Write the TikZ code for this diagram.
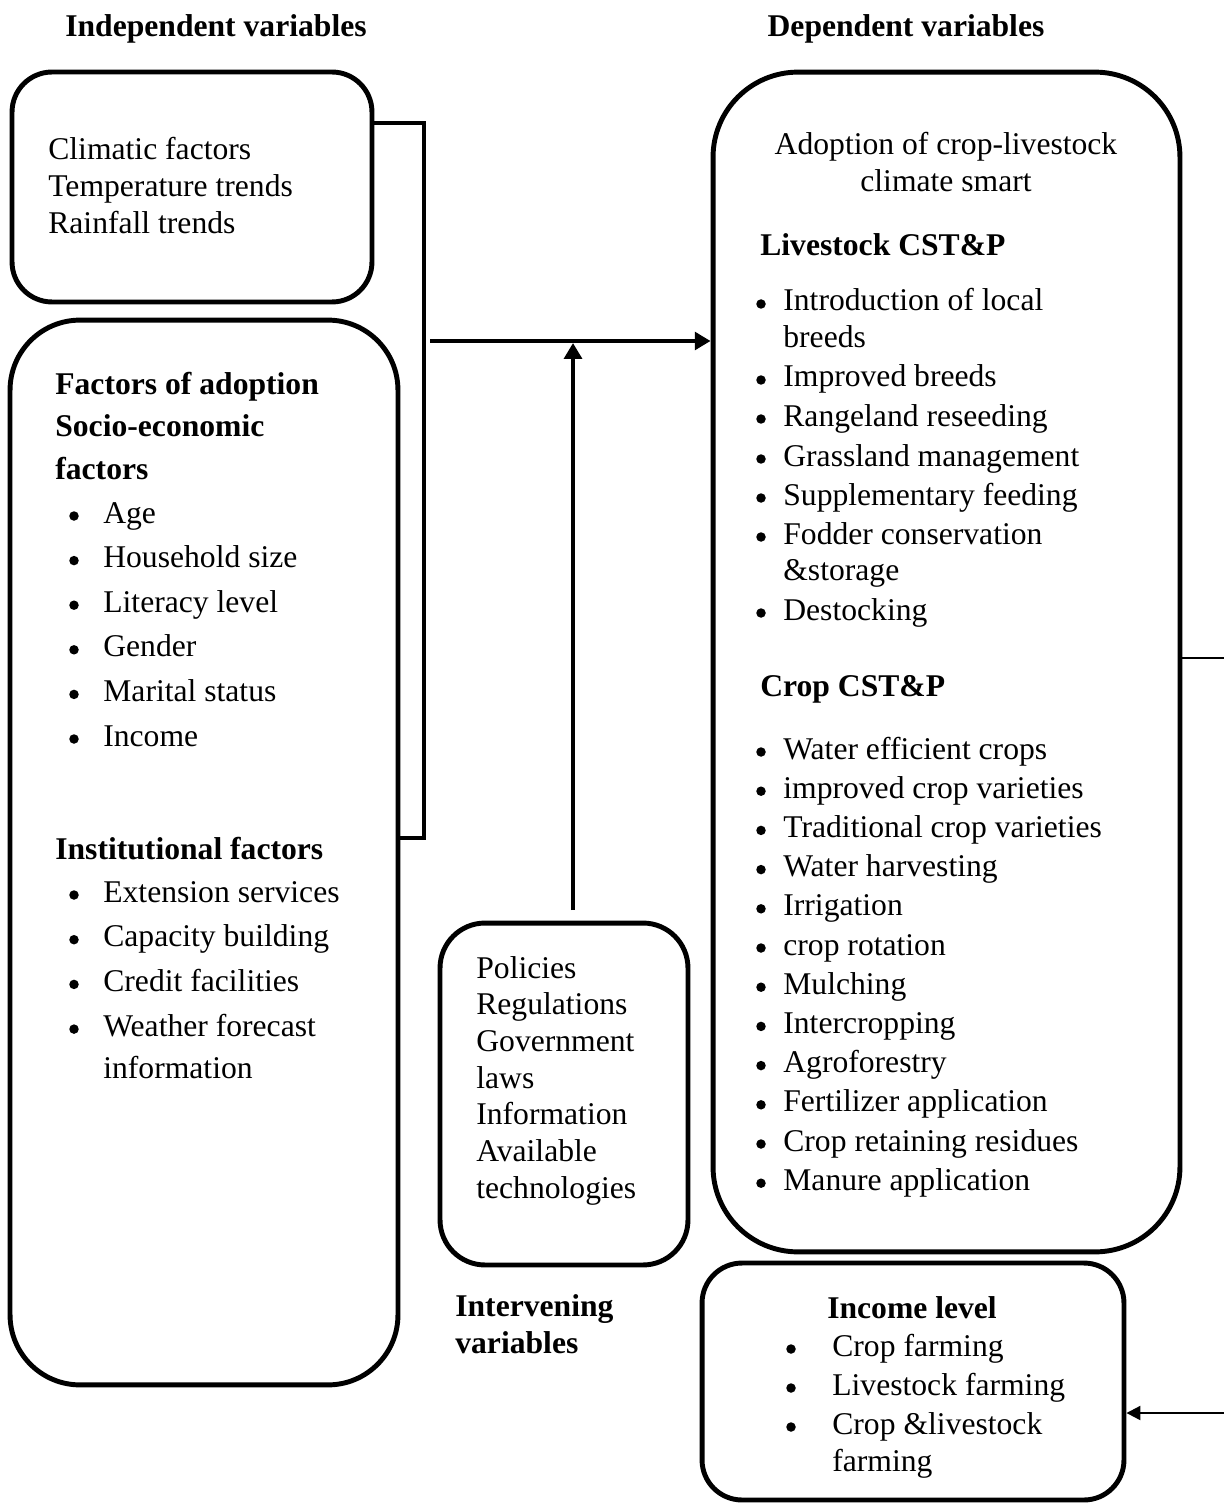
\documentclass[tikz,border=0pt]{standalone}
\usepackage{fontspec}
\setmainfont{Liberation Serif}
\usetikzlibrary{arrows.meta}
\begin{document}
\begin{tikzpicture}[x=0.02cm,y=-0.02cm,
  box/.style={draw,line width=2.8pt,rounded corners=#1,inner sep=0pt},
  txt/.style={anchor=base west,inner sep=0pt,font=\fontsize{18}{21}\selectfont},
  btxt/.style={txt,font=\fontsize{18}{21}\selectfont\bfseries},
  ctxt/.style={anchor=base,inner sep=0pt,font=\fontsize{18}{21}\selectfont},
  bul/.style={circle,fill,inner sep=0pt,minimum size=0.19cm},
  thickarrow/.style={line width=2.8pt,-{Triangle[length=9pt,width=10pt]}},
  thinarrow/.style={line width=1.2pt,-{Triangle[length=8pt,width=8pt]}}]
\useasboundingbox (0,0) rectangle (1223,1503);
% boxes
\node[box=0.8cm,minimum width=7.2cm,minimum height=4.6cm] (b1) at (192,187) {};
\node[box=1.4cm,minimum width=7.76cm,minimum height=21.3cm] (b2) at (204,852.5) {};
\node[box=0.9cm,minimum width=4.96cm,minimum height=6.84cm] (b3) at (564,1094) {};
\node[box=1.7cm,minimum width=9.34cm,minimum height=23.6cm] (b4) at (946.5,662) {};
\node[box=0.8cm,minimum width=8.44cm,minimum height=4.74cm] (b5) at (913,1381.5) {};
% titles
\node[ctxt,font=\fontsize{18}{21}\selectfont\bfseries] (t1) at (216,37) {Independent variables};
\node[ctxt,font=\fontsize{18}{21}\selectfont\bfseries] (t2) at (906,37) {Dependent variables};
% box1 text
\node[txt] (a1) at (48,160) {Climatic factors};
\node[txt] (a2) at (48,197) {Temperature trends};
\node[txt] (a3) at (48,234) {Rainfall trends};
% box2 text
\node[btxt] (c1) at (55,395) {Factors of adoption};
\node[btxt] (c2) at (55,437) {Socio-economic};
\node[btxt] (c3) at (55,479) {factors};
\foreach \t [count=\i] in {Age,Household size,Literacy level,Gender,Marital status,Income}{
  \node[bul] (cb\i) at (74,{514+44.6*(\i-1)+2}) {};
  \node[txt] (ct\i) at (103,{514+44.6*(\i-1)+9}) {\t};
}
\node[btxt] (c4) at (55,859) {Institutional factors};
\foreach \t [count=\i] in {Extension services,Capacity building,Credit facilities,Weather forecast}{
  \node[bul] (db\i) at (74,{893+44.7*(\i-1)+2}) {};
  \node[txt] (dt\i) at (103,{893+44.7*(\i-1)+9}) {\t};
}
\node[txt] (dt5) at (103,1078) {information};
% box3 text
\foreach \t [count=\i] in {Policies,Regulations,Government,laws,Information,Available,technologies}{
  \node[txt] (p\i) at (476,{968+36.7*(\i-1)+10}) {\t};
}
\node[btxt] (iv1) at (455,1316) {Intervening};
\node[btxt] (iv2) at (455,1353) {variables};
% box4 text
\node[ctxt] (e1) at (946,155) {Adoption of crop-livestock};
\node[ctxt] (e2) at (946,192) {climate smart};
\node[btxt] (e3) at (760,256) {Livestock CST\&P};
\foreach \t/\y [count=\i] in {Introduction of local/302,Improved breeds/378,Rangeland reseeding/417,Grassland management/457,Supplementary feeding/496,Fodder conservation/535,Destocking/611}{
  \node[bul] (lb\i) at (761,\y+2) {};
  \node[txt] (lt\i) at (783,\y+9) {\t};
}
\node[txt] (lx1) at (783,348) {breeds};
\node[txt] (lx2) at (783,580) {\&storage};
\node[btxt] (e4) at (760,696) {Crop CST\&P};
\foreach \t [count=\i] in {Water efficient crops,improved crop varieties,Traditional crop varieties,Water harvesting,Irrigation,crop rotation,Mulching,Intercropping,Agroforestry,Fertilizer application,Crop retaining residues,Manure application}{
  \node[bul] (kb\i) at (761,{750+39.2*(\i-1)+2}) {};
  \node[txt] (kt\i) at (783,{750+39.2*(\i-1)+9}) {\t};
}
% box5 text
\node[ctxt,font=\fontsize{18}{21}\selectfont\bfseries] (f1) at (912,1318) {Income level};
\foreach \t/\y [count=\i] in {Crop farming/1347,Livestock farming/1386,Crop \&livestock/1425}{
  \node[bul] (fb\i) at (791,\y+2) {};
  \node[txt] (ft\i) at (832,\y+9) {\t};
}
\node[txt] (fx) at (832,1471) {farming};
% connectors
\draw[line width=2.8pt] (b1.east |- 0,123) -- (424,123) -- (424,838) -- (b2.east |- 0,838);
\coordinate (h0) at (430,341);
\draw[thickarrow] (h0) -- (b4.west |- h0);
\coordinate (v0) at (573,910);
\coordinate (v1) at (573,343);
\draw[thickarrow] (v0) -- (v1);
\draw[thinarrow] (b4.east |- 0,658) -- (1245,658) -- (1245,1413) -- (b5.east |- 0,1413);
\end{tikzpicture}
\end{document}
